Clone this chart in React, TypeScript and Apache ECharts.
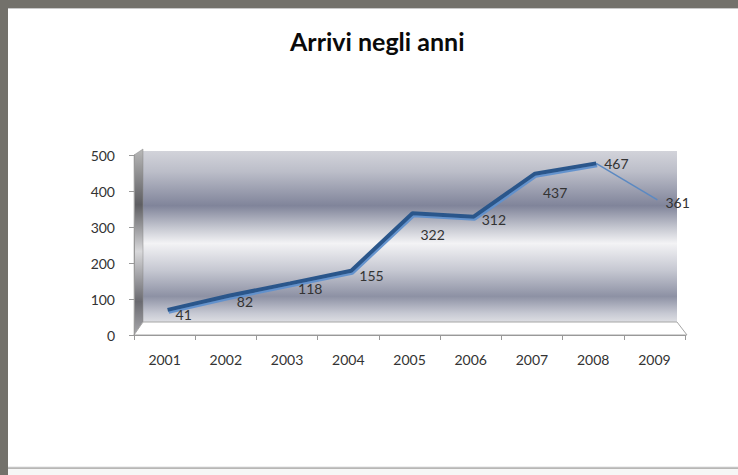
import React, { useEffect, useRef } from "react";
import * as echarts from "echarts";

const categories = ["2001", "2002", "2003", "2004", "2005", "2006", "2007", "2008", "2009"];
const arrivals = [41, 82, 118, 155, 322, 312, 437, 467, 361];
const yTicks = { min: 0, max: 500, interval: 100 };
const titleText = "Arrivi negli anni";

// label vertical shifts (style only)
const labelShiftY = [5, 6, 5, 5, 21, 3, 19, 0, 3];

const FONT = "Lato, 'Open Sans', sans-serif";

export default function App() {
  const ref = useRef<HTMLDivElement>(null);
  useEffect(() => {
    if (!ref.current) return;
    const chart = echarts.init(ref.current, undefined, { renderer: "svg" });

    const W = 738;
    const frontLeft = 134, frontTop = 155, frontW = 551, frontH = 180;
    const backLeft = 137, backTop = 152, backW = 551, backH = 172;
    const wallL = 143, wallR = 677, wallT = 151, wallB = 322;
    const frontB = frontTop + frontH;

    const lastIdx = arrivals.length - 1;
    const mainData = arrivals.map((v, i) =>
      i < lastIdx ? { value: v, label: { offset: [0, labelShiftY[i]] } } : "-"
    );
    const tailData = arrivals.map((v, i) =>
      i >= lastIdx - 1
        ? { value: v, label: { show: i === lastIdx, offset: [0, labelShiftY[i]] } }
        : "-"
    );

    const labelStyle = {
      show: true,
      position: "right",
      distance: 8,
      color: "#333333",
      fontSize: 14,
      fontFamily: FONT,
    };

    const wallGradient = new echarts.graphic.LinearGradient(0, 0, 0, 1, [
      { offset: 0, color: "#d2d3da" },
      { offset: 0.12, color: "#bcbec9" },
      { offset: 0.32, color: "#80849a" },
      { offset: 0.45, color: "#c6c8d1" },
      { offset: 0.54, color: "#f3f3f5" },
      { offset: 0.7, color: "#c5c7d1" },
      { offset: 0.85, color: "#8d91a4" },
      { offset: 0.95, color: "#c7c9d3" },
      { offset: 1, color: "#dddee3" },
    ]);
    const sideGradient = new echarts.graphic.LinearGradient(0, 0, 0, 1, [
      { offset: 0, color: "#b8b8b8" },
      { offset: 0.3, color: "#5e5e62" },
      { offset: 0.55, color: "#d8d8da" },
      { offset: 0.82, color: "#6a6a70" },
      { offset: 1, color: "#a8a8ac" },
    ]);

    chart.setOption({
      animation: false,
      backgroundColor: "#73716b",
      title: {
        text: titleText,
        left: 285,
        top: 23,
        textStyle: { fontFamily: FONT, fontSize: 25, fontWeight: "bold", color: "#0a0a0a" },
      },
      graphic: [
        { type: "rect", z: -100, shape: { x: 8, y: 8, width: W - 8, height: 459 }, style: { fill: "#ffffff" } },
        { type: "line", z: -99, shape: { x1: 8, y1: 8.5, x2: W, y2: 8.5 }, style: { stroke: "#c8c8c8", lineWidth: 1 } },
        { type: "line", z: -99, shape: { x1: 8, y1: 467.5, x2: W, y2: 467.5 }, style: { stroke: "#c4c4c4", lineWidth: 1.5 } },
        { type: "rect", z: -100, shape: { x: 8, y: 468.5, width: W - 8, height: 7 }, style: { fill: "#f6f6f6" } },
        { type: "rect", z: -90, shape: { x: wallL, y: wallT, width: wallR - wallL, height: wallB - wallT }, style: { fill: wallGradient } },
        {
          type: "polygon", z: -90,
          shape: { points: [[frontLeft, frontTop], [wallL, wallT - 2], [wallL, wallB], [frontLeft, frontB]] },
          style: { fill: sideGradient, stroke: "#8a8a8a", lineWidth: 0.5 },
        },
        {
          type: "polygon", z: -90,
          shape: { points: [[frontLeft, frontB], [wallL, wallB], [wallR, wallB], [frontLeft + frontW + 2, frontB]] },
          style: { fill: "#ffffff", stroke: "#a6a6a6", lineWidth: 1 },
        },
      ],
      grid: [
        { left: frontLeft, top: frontTop, width: frontW, height: frontH },
        { left: backLeft, top: backTop, width: backW, height: backH },
      ],
      xAxis: [
        {
          type: "category",
          gridIndex: 0,
          data: categories,
          boundaryGap: true,
          axisLine: { show: true, lineStyle: { color: "#999999", width: 1 } },
          axisTick: { show: true, length: 5, lineStyle: { color: "#999999" } },
          axisLabel: { color: "#333333", fontSize: 14, fontFamily: FONT, margin: 17 },
        },
        { type: "category", gridIndex: 1, data: categories, boundaryGap: true, show: false },
      ],
      yAxis: [
        {
          type: "value",
          gridIndex: 0,
          min: yTicks.min,
          max: yTicks.max,
          interval: yTicks.interval,
          axisLine: { show: true, lineStyle: { color: "#999999", width: 1 } },
          axisTick: { show: true, length: 5, lineStyle: { color: "#999999" } },
          splitLine: { show: false },
          axisLabel: { color: "#333333", fontSize: 14, fontFamily: FONT, margin: 19 },
        },
        {
          type: "value",
          gridIndex: 1,
          min: yTicks.min,
          max: yTicks.max,
          interval: yTicks.interval,
          show: false,
          splitLine: { show: false },
        },
      ],
      series: [
        {
          type: "line",
          xAxisIndex: 1,
          yAxisIndex: 1,
          data: mainData,
          symbol: "circle",
          symbolSize: 0.01,
          showSymbol: true,
          itemStyle: { color: "#2d5b90" },
          lineStyle: {
            color: "#2b578b",
            width: 4,
            shadowColor: "rgba(95,145,205,0.95)",
            shadowOffsetY: 2,
            shadowOffsetX: 1,
            shadowBlur: 1,
          },
          label: labelStyle,
          z: 3,
        },
        {
          type: "line",
          xAxisIndex: 1,
          yAxisIndex: 1,
          data: tailData,
          symbol: "circle",
          symbolSize: 0.01,
          showSymbol: true,
          itemStyle: { color: "#5a88c0" },
          lineStyle: { color: "#5b89c2", width: 1.5 },
          label: labelStyle,
          z: 2,
        },
      ],
    });
    return () => chart.dispose();
  }, []);
  return <div ref={ref} style={{ position: "fixed", left: 0, top: 0, width: 738, height: 475 }} />;
}
